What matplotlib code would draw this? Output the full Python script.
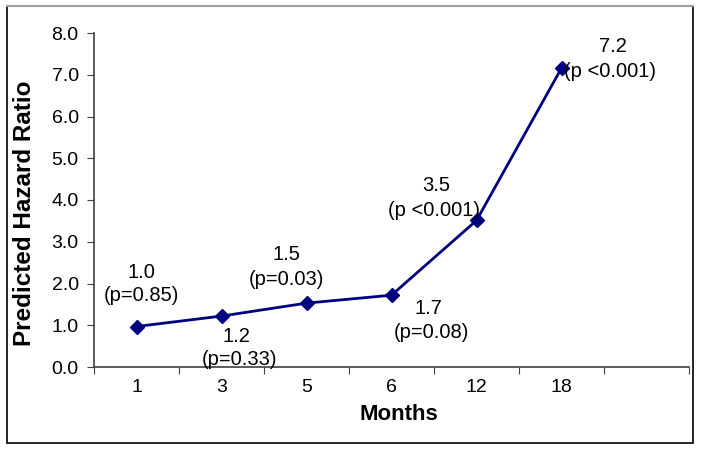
import numpy as np
import matplotlib.pyplot as plt
from matplotlib.patches import Rectangle
from matplotlib.lines import Line2D

plt.rcParams['font.family'] = ['Liberation Sans', 'DejaVu Sans']

months = ['1', '3', '5', '6', '12', '18']
hazard = [0.97, 1.22, 1.53, 1.72, 3.51, 7.16]
value_labels = ['1.0', '1.2', '1.5', '1.7', '3.5', '7.2']
p_labels = ['(p=0.85)', '(p=0.33)', '(p=0.03)', '(p=0.08)', '(p <0.001)', '(p <0.001)']
# label offsets (pixels) relative to each marker: value line, p line
offsets = [(5, 54, 5, 31), (15, -20, 18, -43), (-20, 49, -20, 24),
           (37, -13, 40, -37), (-40, 35, -42, 10), (51, 22, 48, -3)]

fig = plt.figure(figsize=(7.02, 4.5), dpi=100)
ax = fig.add_axes([94/702, 1 - 367/450, (689 - 94)/702, (367 - 33)/450])

x = np.arange(len(months))
ax.plot(x, hazard, color='#000080', lw=2, marker='D', ms=7, zorder=3)

for i in range(len(months)):
    dx1, dy1, dx2, dy2 = offsets[i]
    ax.annotate(value_labels[i], (x[i], hazard[i]), xytext=(dx1*0.72, dy1*0.72),
                textcoords='offset points', ha='center', va='center', fontsize=14.5)
    ax.annotate(p_labels[i], (x[i], hazard[i]), xytext=(dx2*0.72, dy2*0.72),
                textcoords='offset points', ha='center', va='center', fontsize=14.5)

ax.set_xlim(-0.5, 6.5)
ax.set_ylim(0, 8)
ax.set_yticks(np.arange(0, 8.1, 1))
ax.set_yticklabels([f'{v:.1f}' for v in np.arange(0, 8.1, 1)], fontsize=14)
ax.set_xticks(np.arange(-0.5, 6.6, 1))
ax.set_xticklabels([])
ax.set_xticks(x, minor=True)
ax.set_xticklabels(months, minor=True, fontsize=14)
ax.tick_params(axis='x', which='major', direction='out', length=5, color='#404040')
ax.tick_params(axis='x', which='minor', length=0, pad=9)
ax.tick_params(axis='y', direction='out', length=5, color='#404040', pad=6)

for s in ['top', 'right']:
    ax.spines[s].set_visible(False)
for s in ['left', 'bottom']:
    ax.spines[s].set_color('#404040')
    ax.spines[s].set_linewidth(1.2)

fig.text(399/702, 1 - 415/450, 'Months', ha='center', va='center',
         fontsize=16, fontweight='bold')
fig.text(25/702, 1 - 213/450, 'Predicted Hazard Ratio', ha='center', va='center',
         rotation=90, fontsize=17.5, fontweight='bold')

# chart border
fig.patches.append(Rectangle((7/702, 1 - 443/450), (693 - 7)/702, (443 - 6)/450,
                             transform=fig.transFigure, fill=False,
                             edgecolor='black', lw=1.2))
fig.lines.append(Line2D([7/702, 693/702], [1 - 6/450, 1 - 6/450],
                        transform=fig.transFigure, color='#a0a0a0', lw=1.5))

plt.savefig('out.png', dpi=100)
